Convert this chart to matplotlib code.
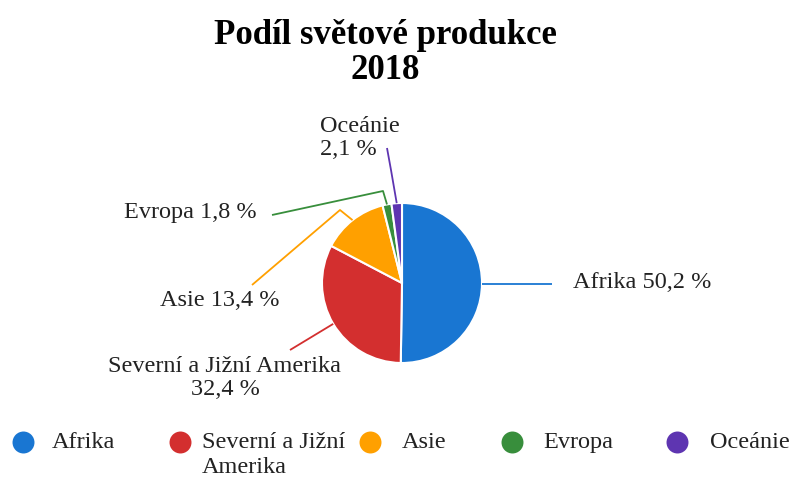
import numpy as np
import matplotlib.pyplot as plt

plt.rcParams['font.family'] = ['Liberation Serif', 'DejaVu Serif']

# share of world production, 2018
regions = ['Afrika', 'Severní a Jižní Amerika', 'Asie', 'Evropa', 'Oceánie']
legend_names = ['Afrika', 'Severní a Jižní\nAmerika', 'Asie', 'Evropa', 'Oceánie']
shares = [50.2, 32.4, 13.4, 1.8, 2.1]
colors = ['#1976d2', '#d32f2f', '#ffa000', '#388e3c', '#5e35b1']

W, H = 791, 478


def py(y):
    # pixel row -> data y (origin bottom-left)
    return H - y


fig = plt.figure(figsize=(W / 100, H / 100), dpi=100)
ax = fig.add_axes([0, 0, 1, 1])

cx, cy, r = 402, py(283), 80
wedges, _ = ax.pie(shares, colors=colors, startangle=90, counterclock=False,
                   center=(cx, cy), radius=r, frame=True,
                   wedgeprops=dict(edgecolor='white', linewidth=1.5))
ax.set_xlim(0, W)
ax.set_ylim(0, H)
ax.set_aspect('equal')
ax.axis('off')

# leader lines: start at the middle of each wedge's rim, then bend to the label
# (None keeps the start height -> horizontal segment)
bends = [
    [(552, None)],
    [(290, 350)],
    [(340, 210), (252, 285)],
    [(383, 191), (272, 215)],
    [(391, 170), (387, 148)],
]
labels = [
    ('Afrika 50,2 %', 573, 283, 'left'),
    ('Severní a Jižní Amerika\n32,4 %', 225, 378, 'center'),
    ('Asie 13,4 %', 220, 301, 'center'),
    ('Evropa 1,8 %', 190, 212, 'center'),
    ('Oceánie\n2,1 %', 320, 138, 'left'),
]
for w, col, pts, (txt, tx, ty, ha) in zip(wedges, colors, bends, labels):
    ang = np.deg2rad((w.theta1 + w.theta2) / 2)
    x0, y0 = cx + r * np.cos(ang), cy + r * np.sin(ang)
    xs = [x0] + [p[0] for p in pts]
    ys = [y0] + [y0 if p[1] is None else py(p[1]) for p in pts]
    ax.plot(xs, ys, color=col, lw=1.3, solid_capstyle='butt')
    ax.text(tx, py(ty), txt, ha=ha, va='center', fontsize=17.5,
            color='#222222', linespacing=1.15)

ax.text(385, py(53), 'Podíl světové produkce\n2018', ha='center', va='center',
        fontsize=25, fontweight='bold', color='black', linespacing=1.1)

# legend row; wrapped names continue one line (25 px) further down
marker_x = [23, 180, 370, 512, 677]
text_x = [52, 202, 402, 543, 710]
for mx, tx, name, col in zip(marker_x, text_x, legend_names, colors):
    ax.scatter([mx], [py(442)], s=250, color=col, zorder=3, linewidths=0)
    for i, line in enumerate(name.split('\n')):
        ax.text(tx, py(448 + 25 * i), line, ha='left', va='baseline',
                fontsize=17.5, color='#222222')

fig.savefig('out.png', dpi=100)
